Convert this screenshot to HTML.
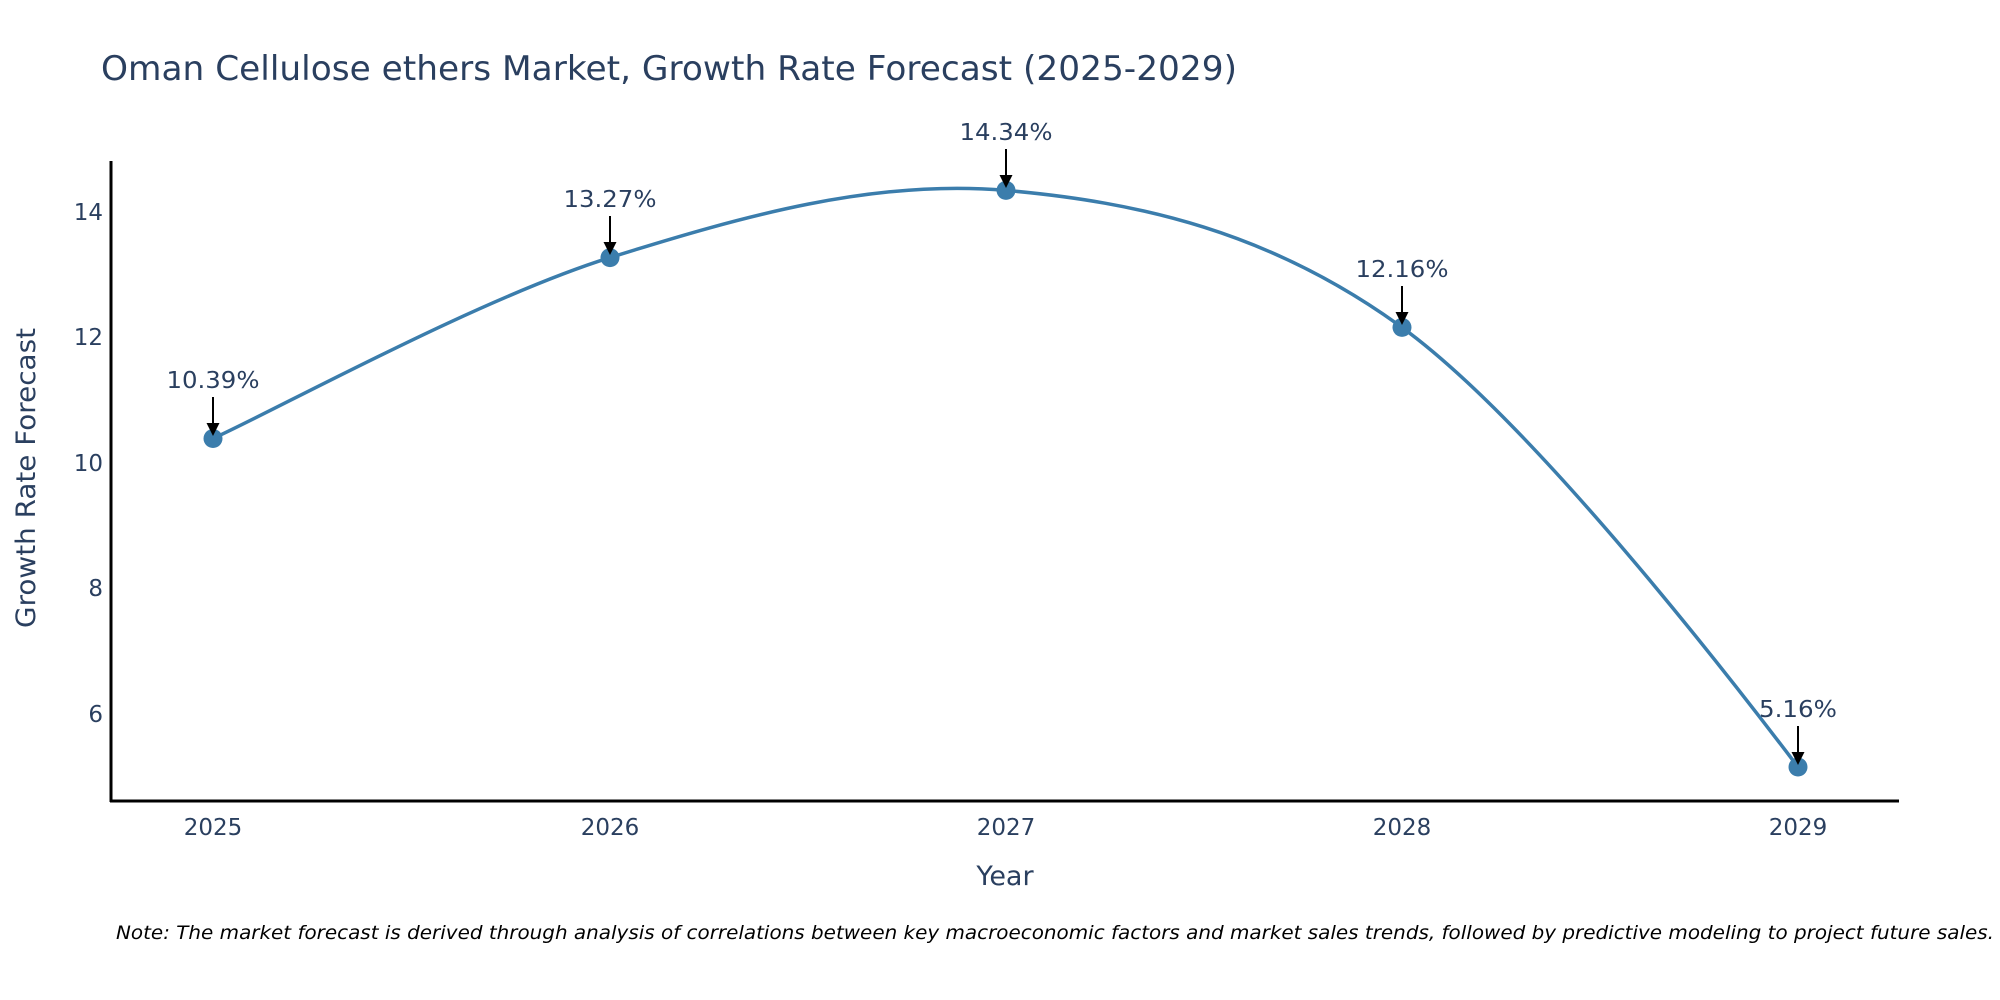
<!DOCTYPE html>
<html><head><meta charset="utf-8"><style>html,body{margin:0;padding:0;background:#fff;}svg{display:block}</style></head>
<body>
<svg width="2000" height="1000" viewBox="0 0 2000 1000" xmlns="http://www.w3.org/2000/svg" font-family="'DejaVu Sans','Liberation Sans',sans-serif">
<rect width="2000" height="1000" fill="#fff"/>
<text x="101" y="80" font-size="34" fill="#2a3f5f" textLength="1136" lengthAdjust="spacingAndGlyphs">Oman Cellulose ethers Market, Growth Rate Forecast (2025-2029)</text>
<line x1="111" y1="161" x2="111" y2="802" stroke="#000" stroke-width="3"/>
<line x1="110" y1="801" x2="1899" y2="801" stroke="#000" stroke-width="3"/>
<g font-size="23" fill="#2a3f5f" text-anchor="end">
<text x="103" y="220">14</text>
<text x="103" y="345">12</text>
<text x="103" y="471">10</text>
<text x="103" y="596">8</text>
<text x="103" y="722">6</text>
</g>
<g font-size="23" fill="#2a3f5f" text-anchor="middle">
<text x="213" y="835">2025</text>
<text x="610" y="835">2026</text>
<text x="1006" y="835">2027</text>
<text x="1402" y="835">2028</text>
<text x="1798" y="835">2029</text>
</g>
<text x="1005" y="885" font-size="27" fill="#2a3f5f" text-anchor="middle">Year</text>
<text transform="translate(35,478) rotate(-90)" font-size="27" fill="#2a3f5f" text-anchor="middle" textLength="300" lengthAdjust="spacingAndGlyphs">Growth Rate Forecast</text>
<path d="M213,438.5 C279.2,408.4 477.8,299 610,257.6 C742.2,216.25 874,178.8 1006,190.4 C1138,202 1270,231.3 1402,327.4 C1534,423.5 1732,680 1798,767" fill="none" stroke="#3b7dac" stroke-width="3.5"/>
<g fill="#3b7dac">
<circle cx="213" cy="438.5" r="9.5"/>
<circle cx="610" cy="257.6" r="9.5"/>
<circle cx="1006" cy="190.4" r="9.5"/>
<circle cx="1402" cy="327.4" r="9.5"/>
<circle cx="1798" cy="767" r="9.5"/>
</g>
<g stroke="#000" stroke-width="2">
<line x1="213" y1="397" x2="213" y2="428"/>
<line x1="610" y1="216" x2="610" y2="247"/>
<line x1="1006" y1="149" x2="1006" y2="180"/>
<line x1="1402" y1="286" x2="1402" y2="317"/>
<line x1="1798" y1="726" x2="1798" y2="757"/>
</g>
<g fill="#000">
<polygon points="206.5,423 219.5,423 213,436"/>
<polygon points="603.5,242 616.5,242 610,255"/>
<polygon points="999.5,175 1012.5,175 1006,188"/>
<polygon points="1395.5,312 1408.5,312 1402,325"/>
<polygon points="1791.5,752 1804.5,752 1798,765"/>
</g>
<g font-size="23" fill="#2a3f5f" text-anchor="middle">
<text x="213" y="388" textLength="93" lengthAdjust="spacingAndGlyphs">10.39%</text>
<text x="610" y="207" textLength="93" lengthAdjust="spacingAndGlyphs">13.27%</text>
<text x="1006" y="140" textLength="93" lengthAdjust="spacingAndGlyphs">14.34%</text>
<text x="1402" y="277" textLength="93" lengthAdjust="spacingAndGlyphs">12.16%</text>
<text x="1798" y="717" textLength="78" lengthAdjust="spacingAndGlyphs">5.16%</text>
</g>
<text x="116" y="939" font-size="19" font-style="italic" fill="#000" textLength="1878" lengthAdjust="spacingAndGlyphs">Note: The market forecast is derived through analysis of correlations between key macroeconomic factors and market sales trends, followed by predictive modeling to project future sales.</text>
</svg>
</body></html>
